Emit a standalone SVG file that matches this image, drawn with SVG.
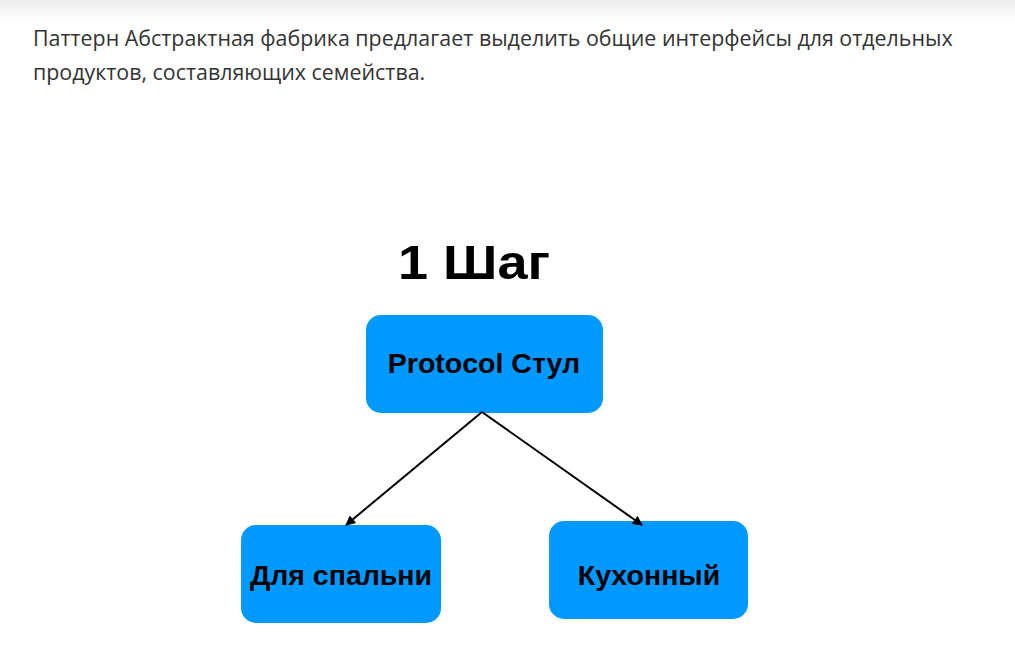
<svg xmlns="http://www.w3.org/2000/svg" width="1015" height="667" viewBox="0 0 1015 667">
<defs>
<linearGradient id="topShade" x1="0" y1="0" x2="0" y2="1">
<stop offset="0" stop-color="#ececec"/>
<stop offset="1" stop-color="#ffffff"/>
</linearGradient>
<marker id="arrow" viewBox="0 0 10 10" refX="9" refY="5" markerWidth="12" markerHeight="10" orient="auto" markerUnits="userSpaceOnUse">
<path d="M0,0 L10,5 L0,10 z" fill="#000"/>
</marker>
<style>
.body{font-family:"Open Sans","Liberation Sans",sans-serif;font-size:21.4px;fill:#333333;}
.title{font-family:"Liberation Sans",Arial,sans-serif;font-weight:bold;font-size:48px;fill:#000;}
.box{fill:#0099ff;}
.lbl{font-family:"Liberation Sans",Arial,sans-serif;font-weight:bold;font-size:28.5px;fill:#000;text-anchor:middle;}
.edge{stroke:#000;stroke-width:2;fill:none;}
</style>
</defs>
<rect x="0" y="0" width="1015" height="667" fill="#ffffff"/>
<rect x="0" y="0" width="1015" height="22" fill="url(#topShade)"/>
<text class="body" x="33" y="46">Паттерн Абстрактная фабрика предлагает выделить общие интерфейсы для отдельных</text>
<text class="body" x="33" y="80">продуктов, составляющих семейства.</text>
<text class="title" x="398" y="279" textLength="152" lengthAdjust="spacingAndGlyphs">1 Шаг</text>
<g id="node-protocol">
<rect class="box" x="366" y="315" width="237" height="98" rx="15"/>
<text class="lbl" x="484" y="373">Protocol Стул</text>
</g>
<g id="node-bedroom">
<rect class="box" x="241" y="525" width="200" height="98" rx="15"/>
<text class="lbl" x="341" y="585">Для спальни</text>
</g>
<g id="node-kitchen">
<rect class="box" x="549" y="521" width="199" height="98" rx="15"/>
<text class="lbl" x="649" y="585">Кухонный</text>
</g>
<g id="connectors">
<line class="edge" x1="482" y1="412" x2="346" y2="525" marker-end="url(#arrow)"/>
<line class="edge" x1="482" y1="412" x2="642" y2="525" marker-end="url(#arrow)"/>
</g>
</svg>
